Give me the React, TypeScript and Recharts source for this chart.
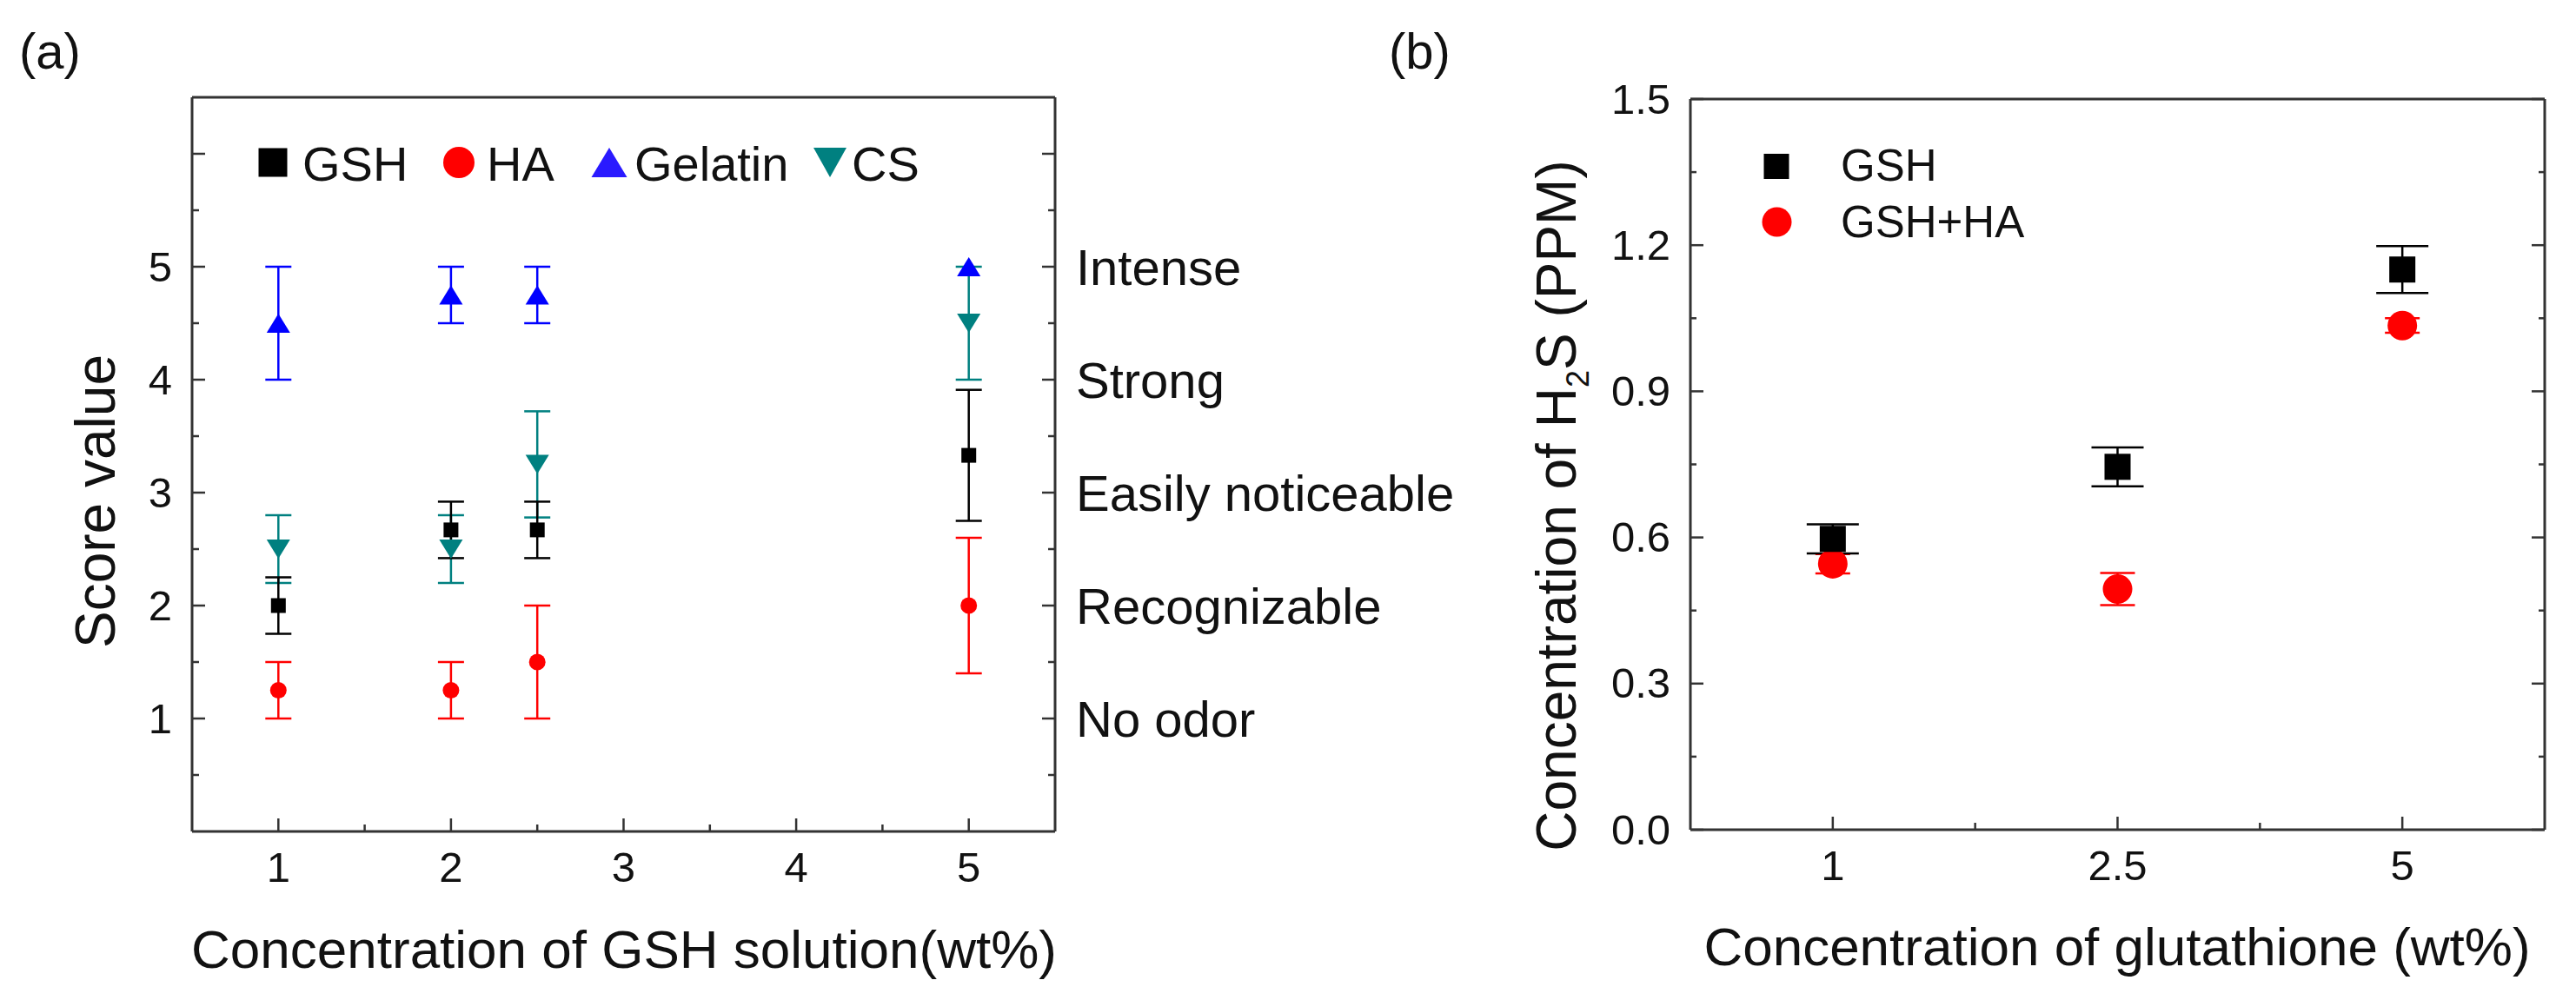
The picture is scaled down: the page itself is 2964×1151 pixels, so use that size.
import React from "react";
import { ScatterChart, Scatter, XAxis, YAxis, ErrorBar } from "recharts";

const FONT = '"Liberation Sans", Arial, Helvetica, sans-serif';
const AXIS = "#333333";

// panel (a): odor score vs GSH concentration
const concA = [1, 2, 2.5, 5];
const gshScore = [2.0, 2.67, 2.67, 3.33];
const gshScoreErr = [0.25, 0.25, 0.25, 0.58];
const haScore = [1.25, 1.25, 1.5, 2.0];
const haScoreErr = [0.25, 0.25, 0.5, 0.6];
const gelatinScore = [4.5, 4.75, 4.75, 5.0];
const gelatinScoreErr = [0.5, 0.25, 0.25, 0];
const csScore = [2.5, 2.5, 3.25, 4.5];
const csScoreErr = [0.3, 0.3, 0.47, 0.5];

const xTicksA = [1, 1.5, 2, 2.5, 3, 3.5, 4, 4.5, 5];
const scoreTicks = [0.5, 1, 1.5, 2, 2.5, 3, 3.5, 4, 4.5, 5, 5.5, 6];
const scoreLabels = [1, 2, 3, 4, 5];
const odorNames = ["No odor", "Recognizable", "Easily noticeable", "Strong", "Intense"];

// panel (b): H2S concentration vs glutathione
const concB = ["1", "2.5", "5"];
const gshPpm = [0.597, 0.745, 1.15];
const gshPpmErr = [0.03, 0.04, 0.048];
const gshHaPpm = [0.546, 0.494, 1.035];
const gshHaPpmErr = [0.02, 0.033, 0.015];

const xTicksB = [0, 0.5, 1, 1.5, 2];
const ppmTicks = [0, 0.15, 0.3, 0.45, 0.6, 0.75, 0.9, 1.05, 1.2, 1.35, 1.5];

const toPoints = (xs: number[], ys: number[], errs: number[]) =>
  xs.map((x, i) => ({ x, y: ys[i], err: errs[i] }));

const idxB = concB.map((_, i) => i);

type Side = "left" | "right" | "top" | "bottom";

function makeTick(
  side: Side,
  isMajor: (v: number) => boolean,
  text: (v: number) => string,
  opt: { major: number; minor: number; gap: number; size: number }
) {
  return (props: any) => {
    const { x, y, payload } = props;
    const v = Number(payload.value);
    const len = isMajor(v) ? opt.major : opt.minor;
    const label = text(v);
    let line;
    let lab = null;
    if (side === "left") {
      line = <line x1={x} y1={y} x2={x + len} y2={y} />;
      if (label)
        lab = (
          <text x={x - opt.gap} y={y} dy="0.34em" textAnchor="end">
            {label}
          </text>
        );
    } else if (side === "right") {
      line = <line x1={x} y1={y} x2={x - len} y2={y} />;
      if (label)
        lab = (
          <text x={x + opt.gap} y={y} dy="0.36em" textAnchor="start">
            {label}
          </text>
        );
    } else if (side === "top") {
      line = <line x1={x} y1={y} x2={x} y2={y + len} />;
    } else {
      line = <line x1={x} y1={y} x2={x} y2={y - len} />;
      if (label)
        lab = (
          <text x={x} y={y + opt.gap} textAnchor="middle">
            {label}
          </text>
        );
    }
    return (
      <g stroke="none">
        <g stroke={AXIS} strokeWidth={2.5}>{line}</g>
        {lab && (
          <g fill="#111" fontSize={opt.size} fontFamily={FONT}>
            {lab}
          </g>
        )}
      </g>
    );
  };
}

const near = (v: number, list: number[]) => list.some((l) => Math.abs(l - v) < 1e-6);
const isWhole = (v: number) => Math.abs(v - Math.round(v)) < 1e-6;

const square = (s: number, fill: string) => (p: any) =>
  <rect x={p.cx - s / 2} y={p.cy - s / 2} width={s} height={s} fill={fill} />;
const dot = (r: number, fill: string) => (p: any) =>
  <circle cx={p.cx} cy={p.cy} r={r} fill={fill} />;
const triUp = (w: number, h: number, fill: string) => (p: any) => (
  <polygon
    points={`${p.cx - w / 2},${p.cy + h / 2} ${p.cx + w / 2},${p.cy + h / 2} ${p.cx},${p.cy - h / 2}`}
    fill={fill}
  />
);
const triDown = (w: number, h: number, fill: string) => (p: any) => (
  <polygon
    points={`${p.cx - w / 2},${p.cy - h / 2} ${p.cx + w / 2},${p.cy - h / 2} ${p.cx},${p.cy + h / 2}`}
    fill={fill}
  />
);

const axisLine = { stroke: AXIS, strokeWidth: 3 };

function PanelA() {
  const seriesA = [
    { name: "CS", ys: csScore, errs: csScoreErr, color: "#008080", shape: triDown(27, 22, "#008080") },
    { name: "Gelatin", ys: gelatinScore, errs: gelatinScoreErr, color: "#0000ff", shape: triUp(27, 22, "#0000ff") },
    { name: "HA", ys: haScore, errs: haScoreErr, color: "#ff0000", shape: dot(9.5, "#ff0000") },
    { name: "GSH", ys: gshScore, errs: gshScoreErr, color: "#000000", shape: square(17, "#000000") },
  ];
  return (
    <ScatterChart width={1800} height={1151} margin={{ top: 111, right: 0, bottom: 0, left: 0 }}>
      <XAxis
        type="number"
        dataKey="x"
        domain={[0.5, 5.5]}
        ticks={xTicksA}
        allowDataOverflow
        height={194}
        tickSize={0}
        tickMargin={0}
        axisLine={axisLine}
        tickLine={false}
        interval={0}
        tick={makeTick("bottom", isWhole, (v) => (isWhole(v) ? String(v) : ""), {
          major: 15,
          minor: 8,
          gap: 58,
          size: 49,
        })}
      />
      <XAxis
        xAxisId="top"
        orientation="top"
        type="number"
        domain={[0.5, 5.5]}
        ticks={xTicksA}
        allowDataOverflow
        height={1}
        tickSize={0}
        tickMargin={0}
        axisLine={axisLine}
        tickLine={false}
        interval={0}
        tick={makeTick("top", isWhole, () => "", { major: 15, minor: 8, gap: 0, size: 49 })}
      />
      <YAxis
        type="number"
        dataKey="y"
        domain={[0, 6.5]}
        ticks={scoreTicks}
        allowDataOverflow
        width={221}
        tickSize={0}
        tickMargin={0}
        axisLine={axisLine}
        tickLine={false}
        interval={0}
        tick={makeTick("left", isWhole, (v) => (near(v, scoreLabels) ? String(v) : ""), {
          major: 15,
          minor: 8,
          gap: 23,
          size: 49,
        })}
      />
      <YAxis
        yAxisId="right"
        orientation="right"
        type="number"
        domain={[0, 6.5]}
        ticks={scoreTicks}
        allowDataOverflow
        width={586}
        tickSize={0}
        tickMargin={0}
        axisLine={axisLine}
        tickLine={false}
        interval={0}
        tick={makeTick(
          "right",
          isWhole,
          (v) => {
            const i = scoreLabels.findIndex((l) => Math.abs(l - v) < 1e-6);
            return i >= 0 ? odorNames[i] : "";
          },
          { major: 15, minor: 8, gap: 24, size: 58 }
        )}
      />
      {seriesA.map((s) => (
        <Scatter
          key={s.name}
          name={s.name}
          data={toPoints(concA, s.ys, s.errs)}
          fill={s.color}
          shape={s.shape}
          isAnimationActive={false}
        >
          <ErrorBar dataKey="err" direction="y" width={15} stroke={s.color} strokeWidth={2.5} />
        </Scatter>
      ))}
    </ScatterChart>
  );
}

function PanelB() {
  const seriesB = [
    { name: "GSH+HA", ys: gshHaPpm, errs: gshHaPpmErr, color: "#ff0000", shape: dot(17, "#ff0000"), cap: 20 },
    { name: "GSH", ys: gshPpm, errs: gshPpmErr, color: "#000000", shape: square(30, "#000000"), cap: 30 },
  ];
  const major03 = (v: number) => Math.abs(v / 0.3 - Math.round(v / 0.3)) < 1e-6;
  return (
    <ScatterChart width={1404} height={1151} margin={{ top: 113, right: 0, bottom: 0, left: 0 }}>
      <XAxis
        type="number"
        dataKey="x"
        domain={[-0.5, 2.5]}
        ticks={xTicksB}
        allowDataOverflow
        height={196}
        tickSize={0}
        tickMargin={0}
        axisLine={axisLine}
        tickLine={false}
        interval={0}
        tick={makeTick("bottom", isWhole, (v) => (isWhole(v) ? concB[Math.round(v)] : ""), {
          major: 15,
          minor: 8,
          gap: 58,
          size: 49,
        })}
      />
      <XAxis
        xAxisId="top"
        orientation="top"
        type="number"
        domain={[-0.5, 2.5]}
        ticks={xTicksB}
        allowDataOverflow
        height={1}
        tickSize={0}
        tickMargin={0}
        axisLine={axisLine}
        tickLine={false}
        interval={0}
        tick={makeTick("top", isWhole, () => "", { major: 15, minor: 8, gap: 0, size: 49 })}
      />
      <YAxis
        type="number"
        dataKey="y"
        domain={[0, 1.5]}
        ticks={ppmTicks}
        allowDataOverflow
        width={385}
        tickSize={0}
        tickMargin={0}
        axisLine={axisLine}
        tickLine={false}
        interval={0}
        tick={makeTick("left", major03, (v) => (major03(v) ? v.toFixed(1) : ""), {
          major: 15,
          minor: 7,
          gap: 23,
          size: 49,
        })}
      />
      <YAxis
        yAxisId="right"
        orientation="right"
        type="number"
        domain={[0, 1.5]}
        ticks={ppmTicks}
        allowDataOverflow
        width={36}
        tickSize={0}
        tickMargin={0}
        axisLine={axisLine}
        tickLine={false}
        interval={0}
        tick={makeTick("right", major03, () => "", { major: 15, minor: 7, gap: 0, size: 49 })}
      />
      {seriesB.map((s) => (
        <Scatter
          key={s.name}
          name={s.name}
          data={toPoints(idxB, s.ys, s.errs)}
          fill={s.color}
          shape={s.shape}
          isAnimationActive={false}
        >
          <ErrorBar dataKey="err" direction="y" width={s.cap} stroke={s.color} strokeWidth={2.5} />
        </Scatter>
      ))}
    </ScatterChart>
  );
}

function Overlay() {
  return (
    <svg
      width={2964}
      height={1151}
      style={{ position: "absolute", left: 0, top: 0, pointerEvents: "none" }}
      fontFamily={FONT}
      fill="#111"
    >
      <text x={22} y={79} fontSize={58}>(a)</text>
      <text x={1598} y={79} fontSize={58}>(b)</text>

      {/* legend (a) */}
      <rect x={297.5} y={170.5} width={33} height={33} fill="#000" />
      <text x={348} y={208} fontSize={56}>GSH</text>
      <circle cx={528} cy={187} r={18} fill="#ff0000" />
      <text x={560} y={208} fontSize={56}>HA</text>
      <polygon points="680.5,204 721.5,204 701,170" fill="#2a1aff" />
      <text x={730} y={208} fontSize={56}>Gelatin</text>
      <polygon points="936,170 974,170 955,204" fill="#008080" />
      <text x={980} y={208} fontSize={56}>CS</text>

      {/* legend (b) */}
      <rect x={2029.5} y={177} width={29} height={29} fill="#000" />
      <text x={2118} y={208} fontSize={51}>GSH</text>
      <circle cx={2044.5} cy={255.5} r={17} fill="#ff0000" />
      <text x={2118} y={273} fontSize={51}>GSH+HA</text>

      {/* axis titles */}
      <text x={132} y={577} fontSize={64} textAnchor="middle" transform="rotate(-90 132 577)">
        Score value
      </text>
      <text x={718} y={1114} fontSize={62} textAnchor="middle">
        Concentration of GSH solution(wt%)
      </text>
      <text x={1813} y={582} fontSize={64} textAnchor="middle" transform="rotate(-90 1813 582)">
        Concentration of H
        <tspan fontSize={36} dy={15}>2</tspan>
        <tspan dy={-15}>S (PPM)</tspan>
      </text>
      <text x={2436} y={1111} fontSize={62} textAnchor="middle">
        Concentration of glutathione (wt%)
      </text>
    </svg>
  );
}

export default function App() {
  return (
    <div
      style={{
        position: "absolute",
        left: 0,
        top: 0,
        width: 2964,
        height: 1151,
        background: "#fff",
        fontFamily: FONT,
      }}
    >
      <div style={{ position: "absolute", left: 0, top: 0 }}>
        <PanelA />
      </div>
      <div style={{ position: "absolute", left: 1560, top: 0 }}>
        <PanelB />
      </div>
      <Overlay />
    </div>
  );
}
